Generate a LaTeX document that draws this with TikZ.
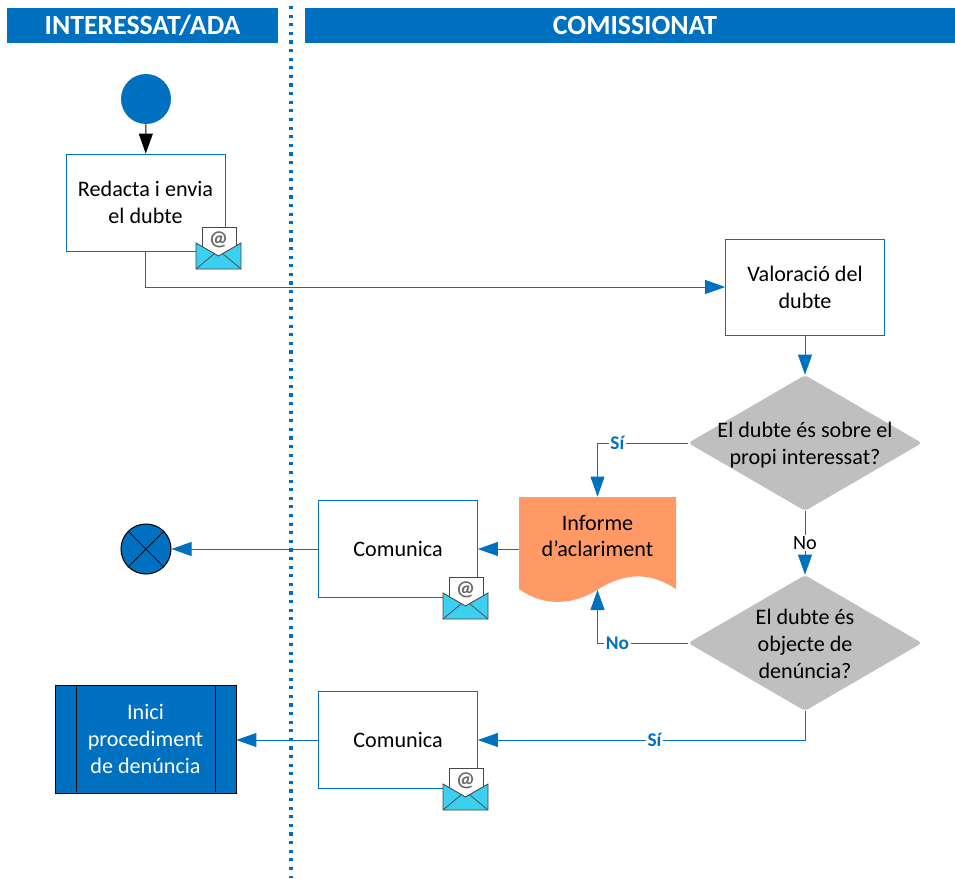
\documentclass[tikz,border=0pt]{standalone}
\usepackage{fontspec}
\setmainfont{Carlito}
\usepackage{xcolor}
\definecolor{azul}{RGB}{0, 112, 192}
\definecolor{grisClaro}{RGB}{191, 191, 191}
\definecolor{naranja}{RGB}{255, 153, 102}
\definecolor{cian}{RGB}{59, 208, 240}
\definecolor{grisOscuro}{RGB}{70, 70, 70}
\usetikzlibrary{arrows.meta,shapes.geometric,positioning}
\tikzstyle{edge}  =[azul, line width=0.5pt,
                    -{Triangle[length=0.4cm,width=0.28cm]}]
\tikzstyle{header}=[fill=azul, text=white, inner sep=0pt, minimum height=0.7cm,
                    font=\fontsize{15.8}{17}\selectfont\bfseries]
\tikzstyle{task}  =[rectangle, draw=azul, fill=white, line width=0.45pt, align=center,
                    minimum width=3.18cm, minimum height=1.94cm, inner sep=0pt,
                    font=\fontsize{12.6}{15.3}\selectfont]
\tikzstyle{ask}   =[diamond, fill=grisClaro, minimum width=4.68cm, minimum height=2.72cm,
                    inner sep=0pt, aspect=1.7, rounded corners=2pt]
\tikzstyle{asktext}=[align=center, font=\fontsize{12.6}{15.3}\selectfont]
\tikzstyle{event} =[circle, minimum size=1cm, inner sep=0pt, fill=azul]
\tikzstyle{answer}=[fill=white, inner sep=1pt, text=azul,
                    font=\fontsize{11}{12}\selectfont\bfseries]
\tikzset{mailicon/.pic={
    \draw [grisOscuro, fill=white, line width=0.5pt] (6,29) -- (6,0) -- (40,0) -- (40,29);
    \node (-at) at (22.5,13) [text=grisOscuro!80, inner sep=0pt,
        font=\fontsize{12}{12}\selectfont\bfseries] {@};
    \fill [cian] (0,16) -- (22.5,29) -- (45,16) -- (45,42) -- (0,42) -- cycle;
    \draw [grisOscuro, line width=0.5pt] (0,42) -- (0,16) -- (22.5,29) -- (45,16) -- (45,42) -- cycle;
    \draw [grisOscuro, line width=0.4pt] (0,42) -- (18,27) (45,42) -- (27,27);
}}

\begin{document}
\begin{tikzpicture}[x=0.02cm,y=-0.02cm]
    \useasboundingbox (0,0) rectangle (955,878);

    \draw (142.5,25.5) node (laneLeft) [header,minimum width=5.42cm] {INTERESSAT/ADA};
    \draw (630,25.5) node (laneRight) [header,minimum width=13cm] {\hspace*{0.2cm}COMISSIONAT};

    \coordinate (laneTop) at (291,6);
    \coordinate (laneBottom) at (291,878);
    \draw [azul, line width=1.8pt, dash pattern=on 1.8pt off 3.1pt] (laneTop) to (laneBottom);

    \draw (146,99) node (start) [event] {};
    \draw (145.5,202.5) node (redacta) [task] {Redacta i envia\\el dubte};
    \draw (805,287) node (valora) [task,minimum height=1.92cm] {Valoració del\\dubte};
    \draw (805,443) node (ask1) [ask,label={[asktext,yshift=-1.2pt]center:El dubte és sobre el\\propi interessat?}] {};
    \draw (805,643) node (ask2) [ask,label={[asktext,yshift=-0.6pt]center:El dubte és\\objecte de\\denúncia?}] {};

    \fill [naranja] (519,497) -- (676,497) -- (676,589)
        .. controls (650,572) and (625,572) .. (597,590)
        .. controls (575,604) and (545,608) .. (519,589) -- cycle;
    \draw (597.5,536) node (informe) [task,draw=none,fill=none,minimum width=3.14cm,minimum height=1.56cm] {Informe\\d’aclariment};
    \coordinate (wave) at (597.5,590);

    \draw (398,549) node (comunica1) [task] {Comunica};
    \draw (398,740) node (comunica2) [task] {Comunica};

    \draw (146,549) node (end) [event,draw=black,line width=0.6pt] {};
    \draw (end.north west) to (end.south east);
    \draw (end.north east) to (end.south west);

    \draw (145.5,739) node (inici) [task,draw=black,fill=azul,text=white,minimum width=3.62cm,minimum height=2.16cm] {Inici\\procediment\\de denúncia};
    \draw (76,685) node (iniciA) [inner sep=0pt] {};
    \draw (76,793) node (iniciB) [inner sep=0pt] {};
    \draw (215,685) node (iniciC) [inner sep=0pt] {};
    \draw (215,793) node (iniciD) [inner sep=0pt] {};
    \draw [line width=0.45pt] (iniciA) to (iniciB);
    \draw [line width=0.45pt] (iniciC) to (iniciD);

    \draw [edge,black] (start) to (redacta);
    \draw [edge] (redacta.south) |- (valora.west);
    \draw [edge] (valora) to (ask1);
    \draw [edge] (ask1.west) -| node [answer,pos=0.39] (lblSi1) {Sí} (informe.north);
    \draw [edge] (ask1) to node [answer,text=black,font=\fontsize{11.5}{12}\selectfont,pos=0.5] (lblNo1) {No} (ask2);
    \draw [edge] (ask2.west) -| node [answer,pos=0.39] (lblNo2) {No} (wave);
    \draw [edge] (ask2.south) |- node [answer,pos=0.73] (lblSi2) {Sí} (comunica2.east);
    \draw [edge] (comunica1.east -| informe.west) to (comunica1.east);
    \draw [edge] (comunica1.west) to (end.east);
    \draw [edge] (comunica2.west) to (comunica2.west -| inici.east);

    \draw (196,227) pic (mail1) {mailicon};
    \draw (443,577) pic (mail2) {mailicon};
    \draw (443,768) pic (mail3) {mailicon};
\end{tikzpicture}
\end{document}
